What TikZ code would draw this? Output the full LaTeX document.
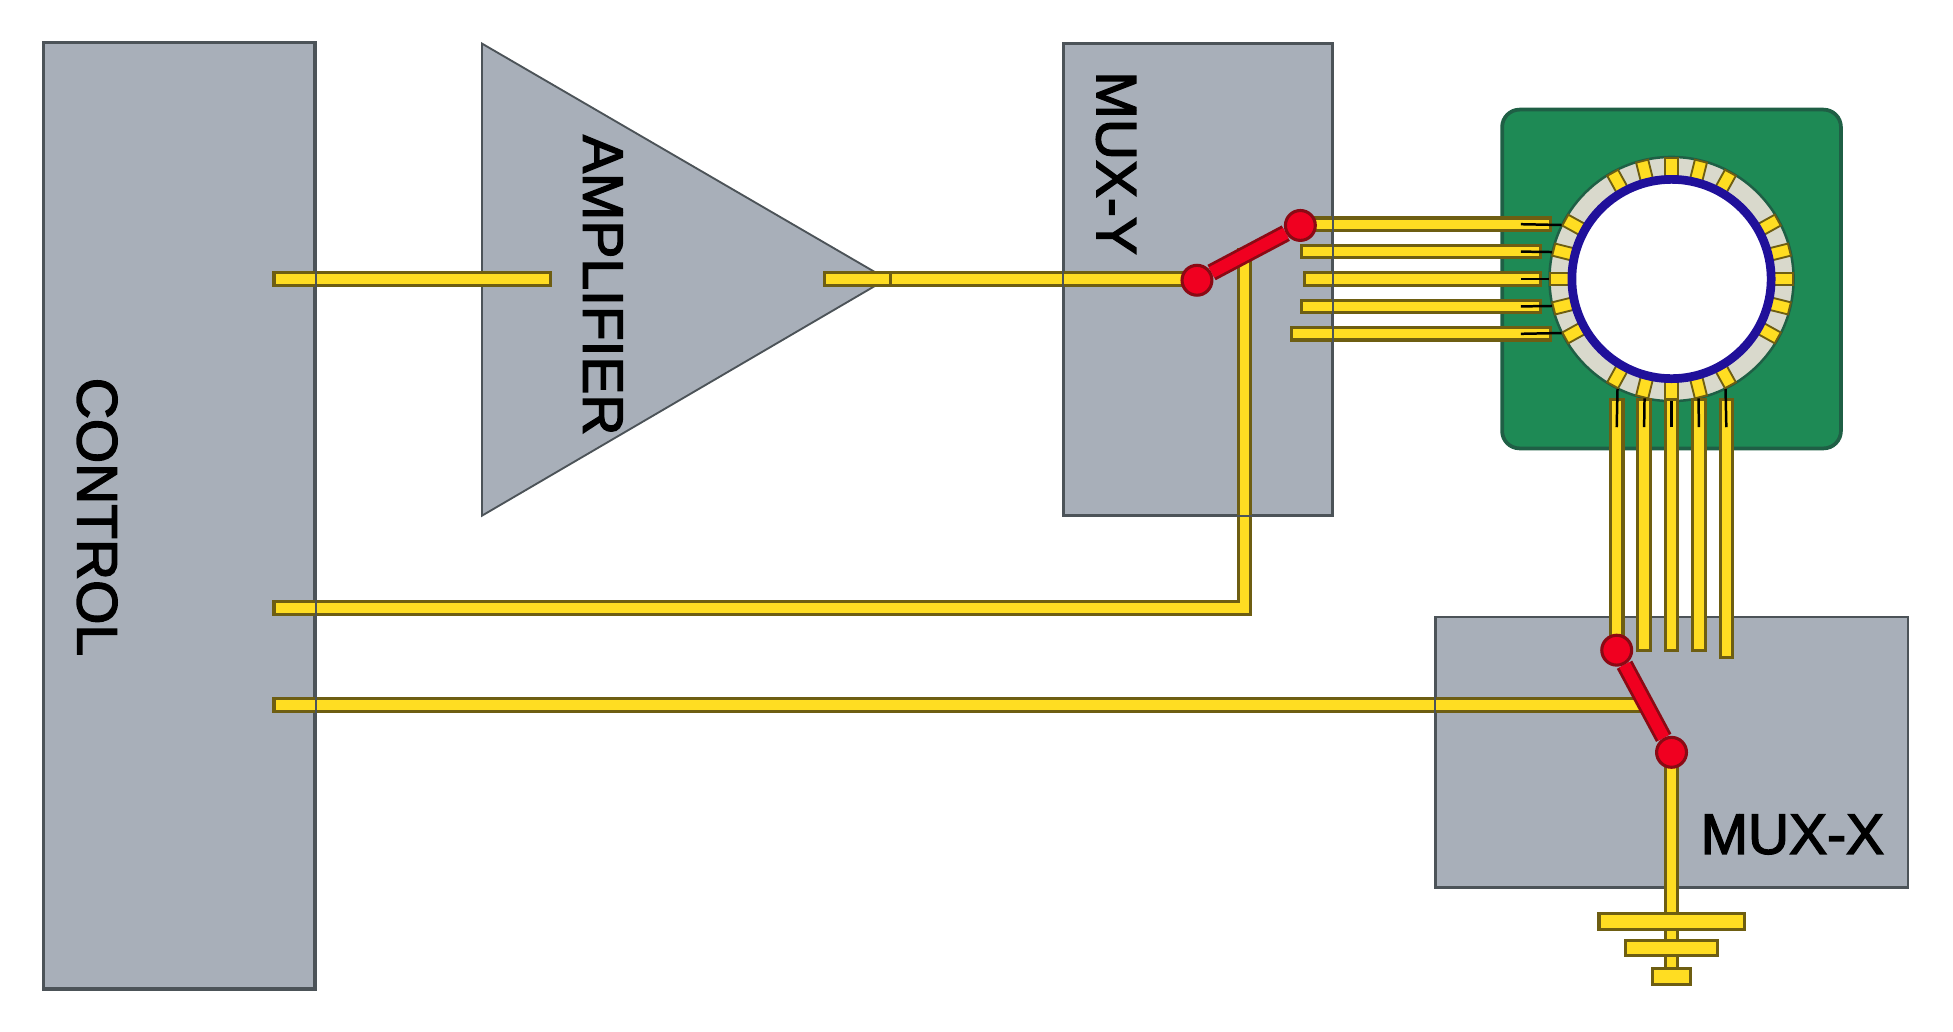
\documentclass[tikz,border=0pt]{standalone}
\usepackage{fontspec}
\setmainfont{Liberation Sans}
\newfontfamily\blockfont[FakeBold=2.5]{Liberation Sans}
\usepackage{tikz}
\definecolor{boxgrey}{HTML}{A8AFB9}
\definecolor{boxedge}{HTML}{4C5358}
\definecolor{chipgreen}{HTML}{1E8A55}
\definecolor{chipedge}{HTML}{1F5F45}
\definecolor{ringlight}{HTML}{D9D9CC}
\definecolor{holeblue}{HTML}{20109A}
\definecolor{wirefill}{HTML}{FFDD22}
\definecolor{wireedge}{HTML}{6E5E12}
\definecolor{switchred}{HTML}{F00020}
\definecolor{switchedge}{HTML}{8A0A14}
\tikzset{
  blockbox/.style={draw=boxedge, fill=boxgrey, line width=0.018cm, inner sep=0pt},
  blocklabel/.style={inner sep=0pt, text=black, font=\blockfont\fontsize{13}{13}\selectfont},
  wire/.style={draw=wirefill, line width=0.075cm, line cap=rect, preaction={draw=wireedge, line cap=rect, line width=0.125cm}},
  barwire/.style={draw=wirefill, line width=0.1cm, line cap=rect, preaction={draw=wireedge, line cap=rect, line width=0.15cm}},
  pinlead/.style={draw=black, line width=0.02cm},
  pinpad/.style={draw=wireedge, fill=wirefill, line width=0.015cm, minimum width=0.17cm, minimum height=0.1cm, inner sep=0pt},
  contact/.style={circle, draw=switchedge, fill=switchred, line width=0.025cm, minimum size=0.24cm, inner sep=0pt},
  switcharm/.style={draw=switchred, line width=0.095cm, preaction={draw=switchedge, line width=0.14cm}}
}

\begin{document}
\begin{tikzpicture}
  \useasboundingbox (0cm,0cm) rectangle (15.68cm,-8.28cm);
  \node[blockbox, minimum width=2.17cm, minimum height=7.59cm] (control) at (1.44cm,-4.14cm) {};
  \node[blocklabel, rotate=-90] (controltext) at (0.78cm,-4.15cm) {CONTROL};
  \filldraw[draw=boxedge, fill=boxgrey, line width=0.015cm] (3.87cm,-0.35cm) -- (7.12cm,-2.24cm) -- (3.87cm,-4.14cm) -- cycle;
  \node[blocklabel, rotate=-90] (amptext) at (4.84cm,-2.29cm) {AMPLIFIER};
  \node[blockbox, minimum width=2.15cm, minimum height=3.78cm] (muxy) at (9.62cm,-2.245cm) {};
  \node[blocklabel, rotate=-90] (muxytext) at (8.96cm,-1.31cm) {MUX-Y};
  \node[blockbox, minimum width=3.79cm, minimum height=2.17cm] (muxx) at (13.425cm,-6.04cm) {};
  \node[blocklabel] (muxxtext) at (14.39cm,-6.7cm) {MUX-X};

  \node[draw=chipedge, fill=chipgreen, line width=0.03cm, rounded corners=0.14cm, minimum size=2.72cm, inner sep=0pt] (chip) at (13.42cm,-2.24cm) {};
  \node[circle, draw=chipedge, fill=ringlight, line width=0.02cm, minimum size=1.96cm, inner sep=0pt] (ring) at (13.42cm,-2.24cm) {};
  \node[pinpad, rotate=90] (padt1) at ([shift={(90:0.89cm)}]ring.center) {};
  \node[pinpad, rotate=76] (padt2) at ([shift={(76:0.89cm)}]ring.center) {};
  \node[pinpad, rotate=104] (padt3) at ([shift={(104:0.89cm)}]ring.center) {};
  \node[pinpad, rotate=61] (padt4) at ([shift={(61:0.89cm)}]ring.center) {};
  \node[pinpad, rotate=119] (padt5) at ([shift={(119:0.89cm)}]ring.center) {};
  \node[pinpad] (padr1) at ([shift={(0:0.89cm)}]ring.center) {};
  \node[pinpad, rotate=14] (padr2) at ([shift={(14:0.89cm)}]ring.center) {};
  \node[pinpad, rotate=-14] (padr3) at ([shift={(-14:0.89cm)}]ring.center) {};
  \node[pinpad, rotate=29] (padr4) at ([shift={(29:0.89cm)}]ring.center) {};
  \node[pinpad, rotate=-29] (padr5) at ([shift={(-29:0.89cm)}]ring.center) {};
  \node[pinpad] (padl1) at ([shift={(180:0.89cm)}]ring.center) {};
  \node[pinpad, rotate=-14] (padl2) at ([shift={(166:0.89cm)}]ring.center) {};
  \node[pinpad, rotate=14] (padl3) at ([shift={(194:0.89cm)}]ring.center) {};
  \node[pinpad, rotate=-29] (padl4) at ([shift={(151:0.89cm)}]ring.center) {};
  \node[pinpad, rotate=29] (padl5) at ([shift={(209:0.89cm)}]ring.center) {};
  \node[pinpad, rotate=90] (padb1) at ([shift={(270:0.89cm)}]ring.center) {};
  \node[pinpad, rotate=76] (padb2) at ([shift={(256:0.89cm)}]ring.center) {};
  \node[pinpad, rotate=104] (padb3) at ([shift={(284:0.89cm)}]ring.center) {};
  \node[pinpad, rotate=61] (padb4) at ([shift={(241:0.89cm)}]ring.center) {};
  \node[pinpad, rotate=119] (padb5) at ([shift={(299:0.89cm)}]ring.center) {};
  \node[circle, draw=holeblue, fill=white, line width=0.07cm, minimum size=1.6cm, inner sep=0pt] (hole) at (13.42cm,-2.24cm) {};

  \coordinate (ctrlamp) at (2.25cm,-2.24cm);
  \coordinate (ampin) at (4.37cm,-2.24cm);
  \coordinate (ampout) at (6.67cm,-2.24cm);
  \coordinate (amptip) at (7.1cm,-2.24cm);
  \coordinate (ctrly) at (2.25cm,-4.88cm);
  \coordinate (ctrlx) at (2.25cm,-5.66cm);
  \coordinate (ycorner) at (9.99cm,-4.88cm);
  \coordinate (yjoint) at (9.99cm,-2.05cm);
  \coordinate (xjoint) at (13.15cm,-5.66cm);
  \coordinate (gnd) at (13.42cm,-7.84cm);
  \coordinate (pinl1a) at (10.58cm,-1.8cm);
  \coordinate (pinl1b) at (12.4cm,-1.8cm);
  \coordinate (pinl2a) at (10.5cm,-2.02cm);
  \coordinate (pinl2b) at (12.32cm,-2.02cm);
  \coordinate (pinl3a) at (10.52cm,-2.24cm);
  \coordinate (pinl3b) at (12.32cm,-2.24cm);
  \coordinate (pinl4a) at (10.5cm,-2.46cm);
  \coordinate (pinl4b) at (12.32cm,-2.46cm);
  \coordinate (pinl5a) at (10.42cm,-2.68cm);
  \coordinate (pinl5b) at (12.4cm,-2.68cm);
  \coordinate (pinb1a) at (12.98cm,-3.26cm);
  \coordinate (pinb1b) at (12.98cm,-5.22cm);
  \coordinate (pinb2a) at (13.2cm,-3.26cm);
  \coordinate (pinb2b) at (13.2cm,-5.17cm);
  \coordinate (pinb3a) at (13.42cm,-3.26cm);
  \coordinate (pinb3b) at (13.42cm,-5.17cm);
  \coordinate (pinb4a) at (13.64cm,-3.26cm);
  \coordinate (pinb4b) at (13.64cm,-5.17cm);
  \coordinate (pinb5a) at (13.86cm,-3.26cm);
  \coordinate (pinb5b) at (13.86cm,-5.23cm);
  \coordinate (leadl1) at (12.21cm,-1.8cm);
  \coordinate (leadl2) at (12.21cm,-2.02cm);
  \coordinate (leadl3) at (12.21cm,-2.24cm);
  \coordinate (leadl4) at (12.21cm,-2.46cm);
  \coordinate (leadl5) at (12.21cm,-2.68cm);
  \coordinate (leadb1) at (12.98cm,-3.43cm);
  \coordinate (leadb2) at (13.2cm,-3.43cm);
  \coordinate (leadb3) at (13.42cm,-3.43cm);
  \coordinate (leadb4) at (13.64cm,-3.43cm);
  \coordinate (leadb5) at (13.86cm,-3.43cm);

  \draw[wire] (ctrlamp) -- (ampin);
  \draw[wire] (amptip) -- (9.6cm,-2.24cm);
  \draw[wire] (ampout) -- (amptip);
  \draw[wire] (ctrly) -- (ycorner) -- (yjoint);
  \draw[wire] (ctrlx) -- (xjoint);
  \draw[wire] (pinl1a) -- (pinl1b);
  \draw[wire] (pinl2a) -- (pinl2b);
  \draw[wire] (pinl3a) -- (pinl3b);
  \draw[wire] (pinl4a) -- (pinl4b);
  \draw[wire] (pinl5a) -- (pinl5b);
  \draw[wire] (pinb1a) -- (pinb1b);
  \draw[wire] (pinb2a) -- (pinb2b);
  \draw[wire] (pinb3a) -- (pinb3b);
  \draw[wire] (pinb4a) -- (pinb4b);
  \draw[wire] (pinb5a) -- (pinb5b);
  \draw[pinlead] (leadl1) -- (padl4);
  \draw[pinlead] (leadl2) -- (padl2);
  \draw[pinlead] (leadl3) -- (padl1);
  \draw[pinlead] (leadl4) -- (padl3);
  \draw[pinlead] (leadl5) -- (padl5);
  \draw[pinlead] (leadb1) -- (padb4);
  \draw[pinlead] (leadb2) -- (padb2);
  \draw[pinlead] (leadb3) -- (padb1);
  \draw[pinlead] (leadb4) -- (padb3);
  \draw[pinlead] (leadb5) -- (padb5);

  \draw[draw=boxedge, line width=0.018cm] (control.south west) rectangle (control.north east);
  \draw[draw=boxedge, line width=0.018cm] (muxy.south west) rectangle (muxy.north east);
  \draw[draw=boxedge, line width=0.018cm] (muxx.south west) -- (muxx.north west);

  \node[inner sep=0pt, minimum size=0pt] (gndtop) at (13.42cm,-6.04cm) {};
  \draw[wire] (gndtop) -- (gnd);
  \draw[barwire] (12.9cm,-7.4cm) -- (13.94cm,-7.4cm);
  \draw[barwire] (13.11cm,-7.61cm) -- (13.73cm,-7.61cm);
  \draw[barwire] (13.33cm,-7.84cm) -- (13.51cm,-7.84cm);

  \node[contact] (ysw1) at (9.61cm,-2.25cm) {};
  \node[contact] (ysw2) at (10.44cm,-1.81cm) {};
  \draw[switcharm] (ysw1) -- (ysw2);
  \node[contact] (xsw1) at (12.98cm,-5.22cm) {};
  \node[contact] (xsw2) at (13.42cm,-6.04cm) {};
  \draw[switcharm] (xsw1) -- (xsw2);
\end{tikzpicture}
\end{document}
